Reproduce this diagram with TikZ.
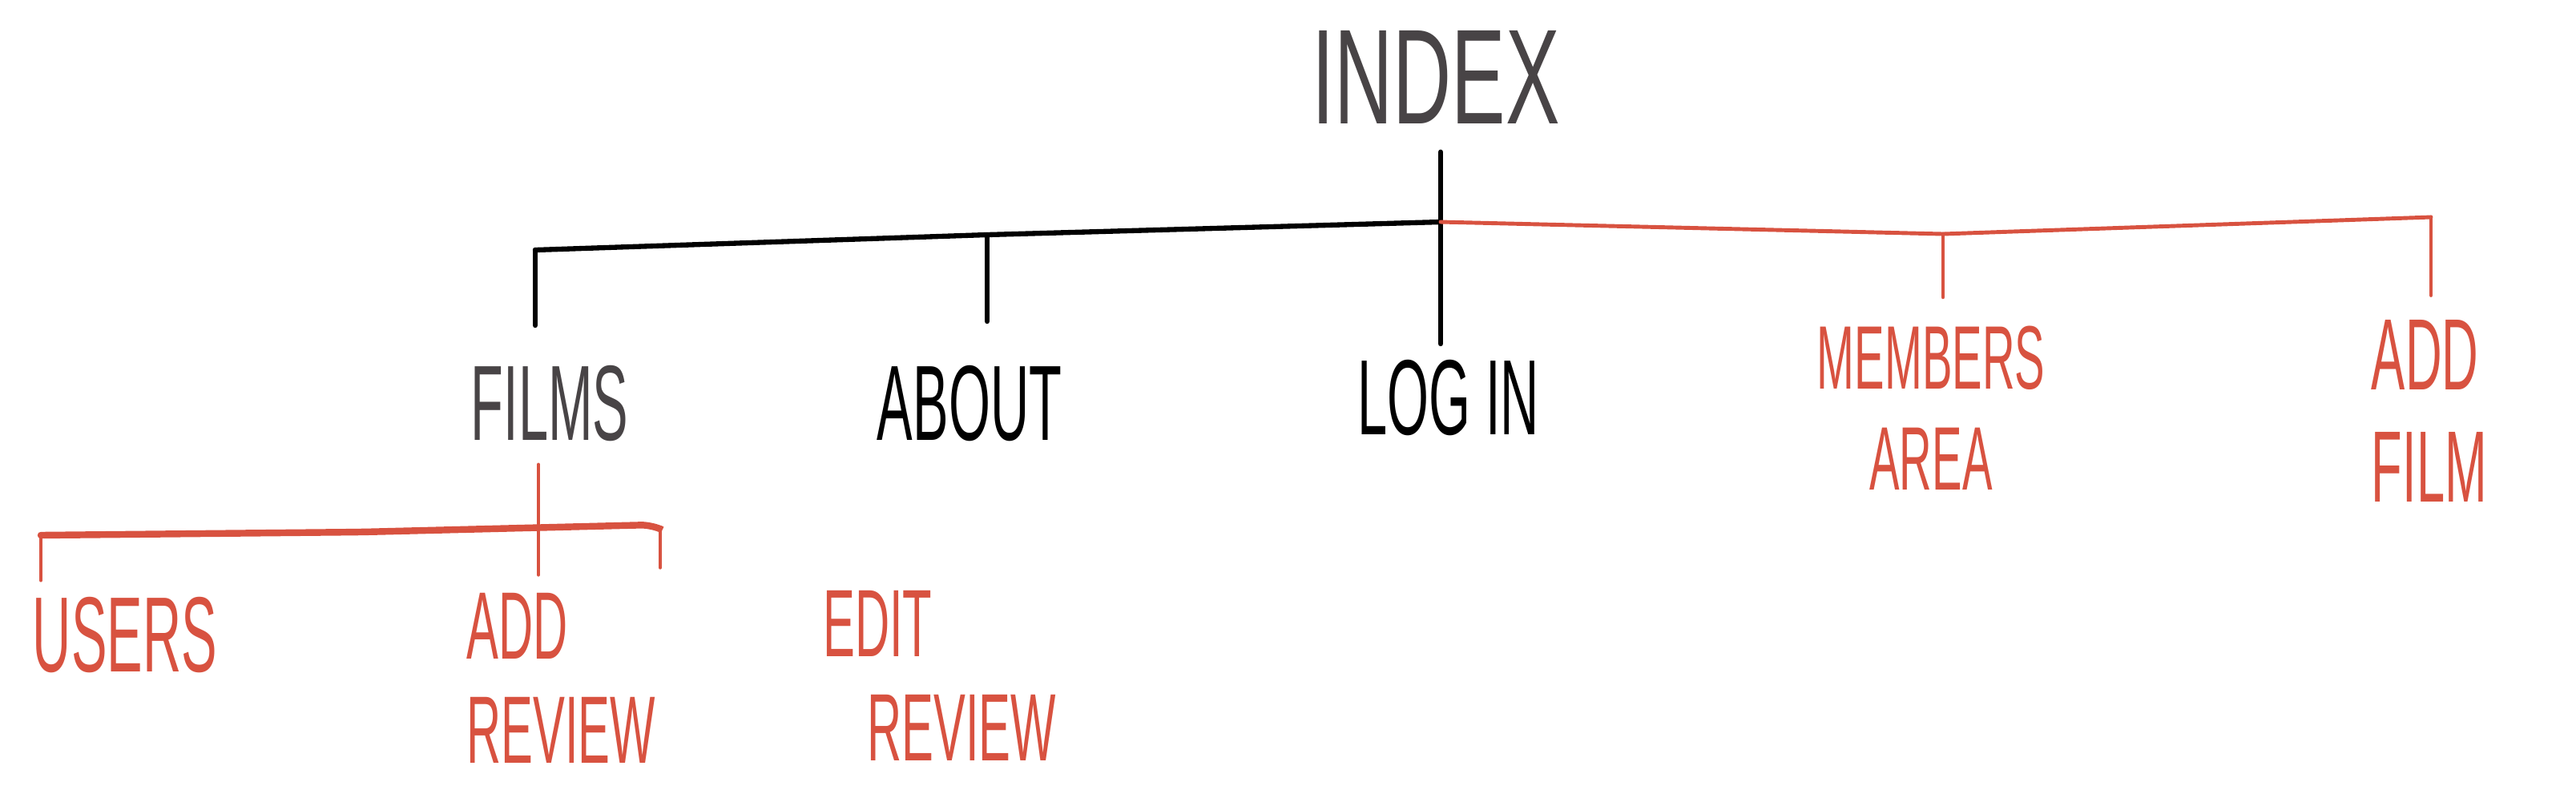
\documentclass[tikz,border=0pt]{standalone}
\usepackage{fontspec}
\usetikzlibrary{calc}
\newfontfamily\sketchfont[FakeStretch=0.5]{Liberation Sans}
\newfontfamily\titlefont[FakeStretch=0.6]{Liberation Sans}
\definecolor{sketchred}{RGB}{216,82,64}
\definecolor{sketchgrey}{RGB}{72,68,70}

\begin{document}
\begin{tikzpicture}[
		page/.style={font=\sketchfont\fontsize{38}{30}\selectfont, inner sep=0pt, align=center},
		twoline/.style 2 args={font=\sketchfont\fontsize{#1}{#2}\selectfont, text=sketchred},
		inkline/.style={line width=1.8pt, line cap=round, black},
		redline/.style={line width=1.4pt, line cap=round, sketchred}
	]
		\useasboundingbox (0,0) rectangle (32.15,-9.8);
		% home page
		\node[page, font=\titlefont\fontsize{48}{40}\selectfont, text=sketchgrey] (index) at (17.92,-0.96) {INDEX};
		% first level
		\node[page, text=sketchgrey] (films) at (6.86,-5.04) {FILMS};
		\node[page] (about) at (12.10,-5.04) {ABOUT};
		\node[page] (login) at (18.08,-4.97) {LOG IN};
		\node[page, twoline={32}{36}] (members) at (24.10,-5.09) {MEMBERS\\AREA};
		\node[page, twoline={36}{40}, align=left] (addfilm) at (30.32,-5.13) {ADD\\FILM};
		% second level under films
		\node[page, text=sketchred] (users) at (1.56,-7.92) {USERS};
		\node[page, twoline={34}{37}, align=left] (addreview) at (7.00,-8.46) {ADD\\REVIEW};
		\node[page, twoline={34}{37}, align=left] (editreview) at (12.00,-8.43) {\hspace*{-0.55cm}EDIT\\REVIEW};
		% branch points
		\coordinate (hub) at (17.98,-2.77);
		\coordinate (bar-films) at (6.68,-3.12);
		\coordinate (bar-about) at (12.32,-2.93);
		\coordinate (bar-members) at (24.25,-2.92);
		\coordinate (bar-addfilm) at (30.34,-2.71);
		\coordinate (bar-users) at (0.51,-6.68);
		\coordinate (bar-edit) at (8.24,-6.60);
		% black part of the tree
		\draw[inkline] ($(hub |- index.south)+(0,-0.35)$) -- ($(hub |- login.north)+(0,0.2)$);
		\draw[inkline] (bar-films) -- (bar-about) -- (hub);
		\draw[inkline] (bar-films) -- ($(bar-films |- films.north)+(0,0.5)$);
		\draw[inkline] (bar-about) -- ($(bar-about |- about.north)+(0,0.55)$);
		% red part of the tree
		\draw[redline] (hub) -- (bar-members) -- (bar-addfilm);
		\draw[redline] (bar-members) -- ($(bar-members |- members.north)+(0,0.35)$);
		\draw[redline] (bar-addfilm) -- ($(bar-addfilm |- addfilm.north)+(0,0.3)$);
		% films sub tree
		\draw[redline] ($(films.south)+(-0.14,-0.28)$) -- ($(films.south |- addreview.north)+(-0.14,0.22)$);
		\draw[redline, line width=2.4pt, rounded corners=4pt] (bar-users) -- ++(4,0.04) -- ($(bar-edit)+(-0.1,0.05)$) -- (bar-edit);
		\draw[redline] (bar-users) -- ($(bar-users |- users.north)+(0,0.2)$);
		\draw[redline] (bar-edit) -- ($(bar-edit |- editreview.north)+(0,0.28)$);
	\end{tikzpicture}
\end{document}
